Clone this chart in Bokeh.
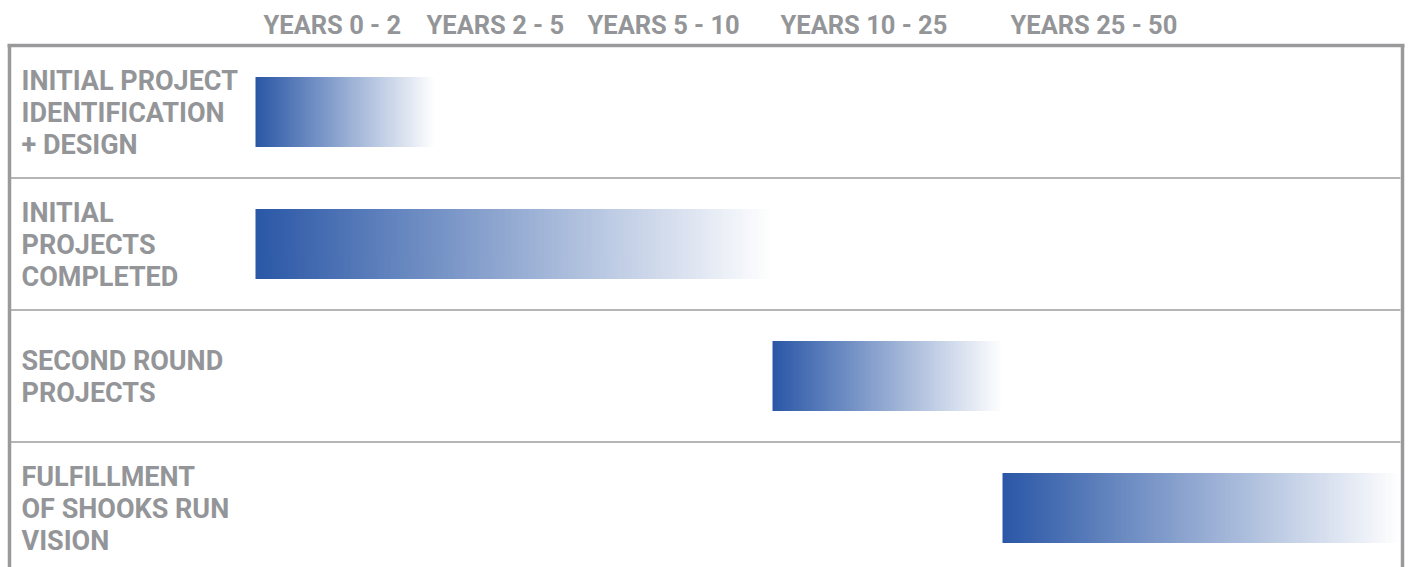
import numpy as np
from bokeh.plotting import figure
from bokeh.models import Range1d, ColumnDataSource
from bokeh.embed import file_html
from bokeh.resources import INLINE
from bokeh.core.properties import value

# ---------------- data ----------------
tasks = [
    "INITIAL PROJECT\nIDENTIFICATION\n+ DESIGN",
    "INITIAL\nPROJECTS\nCOMPLETED",
    "SECOND ROUND\nPROJECTS",
    "FULFILLMENT\nOF SHOOKS RUN\nVISION",
]
task_start = [0, 0, 10, 25]        # years
task_end = [2.3, 10, 25, 50]       # years
period_start = [0, 2, 5, 10, 25]
period_end = [2, 5, 10, 25, 50]
period_labels = ["YEARS 0 - 2", "YEARS 2 - 5", "YEARS 5 - 10", "YEARS 10 - 25", "YEARS 25 - 50"]

# ---------------- layout / style ----------------
W, H = 1408, 567
COL_EDGES_PX = [255, 418, 579, 772, 1002, 1400]   # screen x of the period boundaries
ROW_PX = 132
ROW0_PX = 111.5
BAR_PX = 70
LABEL_X = 21
GRAY = "#939598"
LINE_GRAY = "#9a9a9c"
BLUE = (42, 87, 166)
FONT = value("Roboto")

bounds = period_start + [period_end[-1]]


def year_to_x(y):
    return np.interp(y, bounds, COL_EDGES_PX)


p = figure(
    width=W, height=H,
    x_range=Range1d(0, W),
    y_range=Range1d((H - ROW0_PX) / ROW_PX, -ROW0_PX / ROW_PX),
    output_backend="svg", toolbar_location=None,
    min_border=0, outline_line_color=None,
    background_fill_color="white", border_fill_color="white",
)
p.axis.visible = False
p.grid.visible = False

# ---------------- gradient bars ----------------
L, R, B, T, C = [], [], [], [], []
half = BAR_PX / 2 / ROW_PX
for i, (s, e) in enumerate(zip(task_start, task_end)):
    x0, x1 = float(year_to_x(s)), float(year_to_x(e))
    n = max(int((x1 - x0) / 2), 1)
    edges = np.linspace(x0, x1, n + 1)
    for k in range(n):
        t = (k + 0.5) / n
        rgb = tuple(int(round(c + (255 - c) * t)) for c in BLUE)
        L.append(edges[k])
        R.append(min(edges[k + 1] + 0.7, x1))
        B.append(i + half)
        T.append(i - half)
        C.append("#%02x%02x%02x" % rgb)
p.quad(left="l", right="r", bottom="b", top="t", fill_color="c", line_color=None,
       source=ColumnDataSource(dict(l=L, r=R, b=B, t=T, c=C)))

# ---------------- frame & dividers ----------------
n_rows = len(tasks)
y_top = -0.5 - 0.5 / ROW_PX
y_bottom = (H - ROW0_PX) / ROW_PX + 0.1
p.segment(x0=[7], y0=[y_top], x1=[1404], y1=[y_top], line_color=LINE_GRAY, line_width=3.5)
p.segment(x0=[9, 1402], y0=[y_top, y_top], x1=[9, 1402], y1=[y_bottom, y_bottom],
          line_color=LINE_GRAY, line_width=3.5)
div_y = [i + 0.5 for i in range(n_rows - 1)]
p.segment(x0=[10] * len(div_y), y0=div_y, x1=[1400] * len(div_y), y1=div_y,
          line_color="#9c9c9c", line_width=1.6)

# ---------------- header labels ----------------
p.text(x=list(year_to_x(period_start)), y=[y_top] * len(period_labels), text=period_labels,
       x_offset=8, y_offset=-20.5, text_font=FONT, text_font_style="bold",
       text_font_size="25.5px", text_color=GRAY, text_align="left", text_baseline="middle")

# ---------------- row labels ----------------
tx, ty, tt, toff = [], [], [], []
for i, lab in enumerate(tasks):
    lines = lab.split("\n")
    n = len(lines)
    for k, ln in enumerate(lines):
        tx.append(LABEL_X)
        ty.append(i)
        tt.append(ln)
        toff.append(0.5 + (k - (n - 1) / 2) * 32)
p.text(x="x", y="y", text="t", y_offset="o", source=ColumnDataSource(dict(x=tx, y=ty, t=tt, o=toff)),
       text_font=FONT, text_font_style="bold", text_font_size="27px", text_color=GRAY,
       text_align="left", text_baseline="middle")

open("out.html", "w").write(file_html(p, INLINE))
